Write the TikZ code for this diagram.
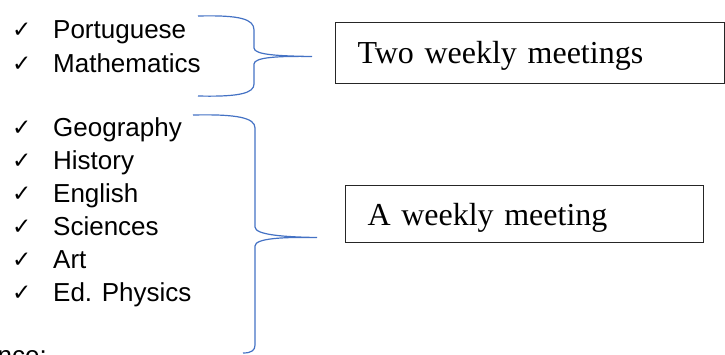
\documentclass[tikz,border=0pt]{standalone}
\usepackage{fontspec}
\setmainfont{Liberation Serif}
\setsansfont{Liberation Sans}
\newfontfamily\symfont{DejaVu Sans}
\usetikzlibrary{positioning, calc}
\definecolor{braceblue}{HTML}{4472C4}
\definecolor{boxline}{HTML}{262626}

\tikzset{
  subject/.style={anchor=base west, inner sep=0pt, font=\sffamily\fontsize{26}{30}\selectfont},
  tick/.style={anchor=base west, inner sep=0pt, font=\symfont\fontsize{23}{26}\selectfont},
  meetbox/.style={draw=boxline, line width=1pt, anchor=north west, inner xsep=22pt,
    inner ysep=0pt, align=left, font=\fontsize{32}{36}\selectfont},
  curly/.style={braceblue, line width=1.2pt}
}

\begin{document}
\begin{tikzpicture}[x=1pt, y=-1pt]
        \useasboundingbox (0,0) rectangle (725,354);
        \clip (0,0) rectangle (725,354);
        \foreach \subj [count=\i] in {Portuguese, Mathematics}{
            \node[tick] (tickA\i) at (12,{37+34*(\i-1)}) {✓};
            \node[subject] (subjA\i) at (53,{38+34*(\i-1)}) {\subj};
        }
        \foreach \subj [count=\i] in {Geography, History, English, Sciences, Art, Ed. Physics}{
            \node[tick] (tickB\i) at (12,{135.7+33*(\i-1)}) {✓};
            \node[subject] (subjB\i) at (53,{136.7+33*(\i-1)}) {\subj};
        }
        \node[subject, anchor=base east] (tail) at (47,364) {nce:};
        \node[meetbox, minimum height=61pt, text width=345pt, text height=25pt, text depth=4pt]
            (twice) at (335,22) {Two weekly meetings};
        \node[meetbox, minimum height=57pt, text width=314pt, text height=27pt, text depth=4pt]
            (once) at (345,185) {A weekly meeting};
        \coordinate (tipA) at ($(twice.west)+(-23,3.5)$);
        \coordinate (tipB) at ($(once.west)+(-28,23.5)$);
        \draw[curly] (198,16) .. controls (240,15) and (254,19) .. (254,30) -- (254,48)
            .. controls (254,55) and (280,56) .. (tipA)
            .. controls (280,56) and (254,57) .. (254,64) -- (254,84)
            .. controls (254,93) and (240,97) .. (198,96);
        \draw[curly] (193,115) .. controls (238,114) and (255,118) .. (255,128) -- (255,227)
            .. controls (255,235) and (285,237) .. (tipB)
            .. controls (285,237) and (255,238) .. (255,246) -- (255,345)
            .. controls (255,350) and (252,353) .. (243,353);
\end{tikzpicture}
\end{document}
